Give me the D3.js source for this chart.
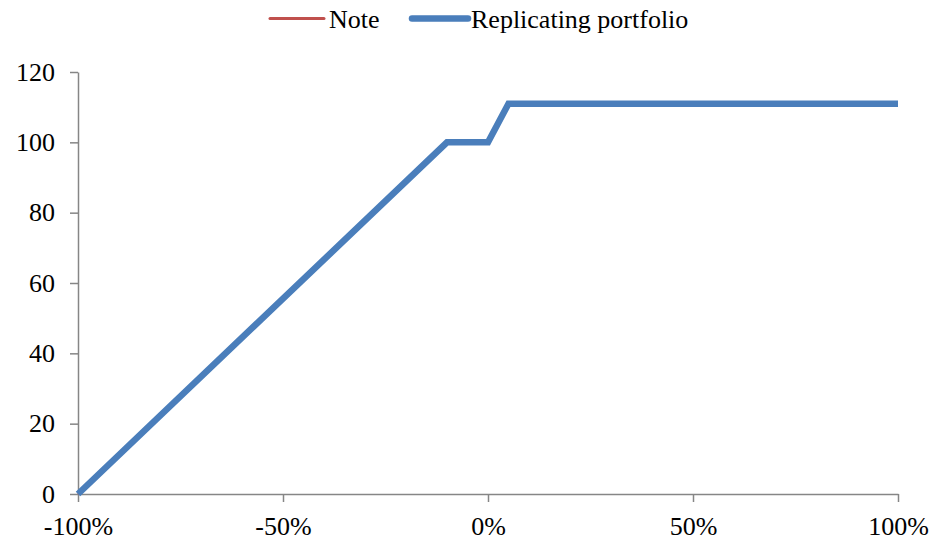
<!DOCTYPE html>
<html>
<head>
<meta charset="utf-8">
<script src="https://cdn.jsdelivr.net/npm/d3@7"></script>
<style>
  html, body { margin: 0; padding: 0; background: #fff; }
  svg text { font-family: "Liberation Serif", "Times New Roman", serif; fill: #000; }
</style>
</head>
<body>
<svg id="chart" width="932" height="540"></svg>
<script>
// Underlying return (x) and payoff values for each series
const returns = [-1.00, -0.10, 0.00, 0.05, 1.00];
const noteValues = [0, 100, 100, 111, 111];
const replicatingValues = [0, 100, 100, 111, 111];
const xTicks = [-1, -0.5, 0, 0.5, 1];
const xTickLabels = ["-100%", "-50%", "0%", "50%", "100%"];
const yTicks = [0, 20, 40, 60, 80, 100, 120];
const seriesNames = ["Note", "Replicating portfolio"];
const seriesColors = ["#C0504D", "#4A7EBB"];

const svg = d3.select("#chart");
const margin = { left: 78, right: 34, top: 72, bottom: 46 };
const W = 932, H = 540;
const fontSize = 26;

const x = d3.scaleLinear().domain([-1, 1]).range([margin.left, W - margin.right]);
const y = d3.scaleLinear().domain([0, 120]).range([H - margin.bottom, margin.top]);

const axisColor = "#868686";

// Y axis
const yAxis = svg.append("g")
  .attr("transform", `translate(${margin.left},0)`)
  .call(d3.axisLeft(y).tickValues(yTicks).tickSize(8).tickSizeOuter(0).tickPadding(15));
yAxis.select(".domain").attr("stroke", axisColor).attr("stroke-width", 1.5);
yAxis.selectAll(".tick line").attr("stroke", axisColor).attr("stroke-width", 1.5);
yAxis.selectAll(".tick text").attr("font-size", fontSize).attr("font-family", "Liberation Serif");

// X axis
const xAxis = svg.append("g")
  .attr("transform", `translate(0,${y(0)})`)
  .call(d3.axisBottom(x).tickValues(xTicks)
    .tickFormat((d, i) => xTickLabels[i])
    .tickSize(8).tickSizeOuter(0).tickPadding(15));
xAxis.select(".domain").attr("stroke", axisColor).attr("stroke-width", 1.5);
xAxis.selectAll(".tick line").attr("stroke", axisColor).attr("stroke-width", 1.5);
xAxis.selectAll(".tick text").attr("font-size", fontSize).attr("font-family", "Liberation Serif");

// Series lines
const line = d3.line().x((d, i) => x(returns[i])).y(d => y(d));

svg.append("path")
  .datum(noteValues)
  .attr("fill", "none")
  .attr("stroke", seriesColors[0])
  .attr("stroke-width", 2.5)
  .attr("d", line);

svg.append("path")
  .datum(replicatingValues)
  .attr("fill", "none")
  .attr("stroke", seriesColors[1])
  .attr("stroke-width", 6.5)
  .attr("stroke-linejoin", "miter")
  .attr("d", line);

// Legend
const legend = svg.append("g");
const legendItems = [
  { name: seriesNames[0], color: seriesColors[0], w: 3, x0: 270, x1: 324, tx: 329 },
  { name: seriesNames[1], color: seriesColors[1], w: 6.5, x0: 412, x1: 468, tx: 471 }
];
legendItems.forEach(it => {
  legend.append("line")
    .attr("x1", it.x0).attr("x2", it.x1)
    .attr("y1", 18.5).attr("y2", 18.5)
    .attr("stroke", it.color).attr("stroke-width", it.w)
    .attr("stroke-linecap", "round");
  legend.append("text")
    .attr("x", it.tx).attr("y", 28)
    .attr("font-size", fontSize)
    .text(it.name);
});
</script>
</body>
</html>
